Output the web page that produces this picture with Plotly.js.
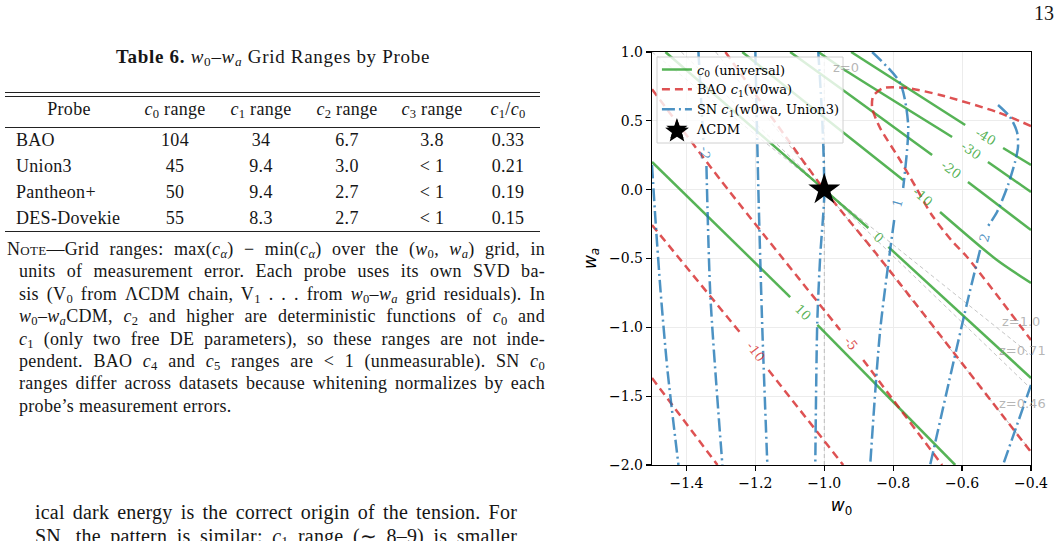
<!DOCTYPE html>
<html>
<head>
<meta charset="utf-8">
<script src="https://cdn.plot.ly/plotly-3.0.1.min.js"></script>
<style>
html,body{margin:0;padding:0;background:#fff;}
#wrap{position:relative;width:1062px;height:541px;overflow:hidden;background:#fff;}
#chart{position:absolute;left:0;top:0;width:1062px;height:541px;}
#page{position:absolute;left:0;top:0;width:1062px;height:541px;pointer-events:none;font-family:"Liberation Serif","Times New Roman",serif;color:#161616;}
.ln{position:absolute;white-space:nowrap;}
.j{text-align:justify;text-align-last:justify;white-space:normal;}
.cell{position:absolute;white-space:nowrap;font-size:18px;line-height:22px;letter-spacing:0.3px;}
.rule{position:absolute;left:5px;width:535px;height:1px;background:#222;}
sub{font-size:70%;vertical-align:baseline;position:relative;top:0.25em;}
.sc{font-variant:small-caps;}
</style>
</head>
<body>
<div id="wrap">
<div id="chart"></div>
<div id="page"></div>
</div>
<script>
// ---------------- table data ----------------
const probes   = ['BAO','Union3','Pantheon+','DES-Dovekie'];
const c0Range  = ['104','45','50','55'];
const c1Range  = ['34','9.4','9.4','8.3'];
const c2Range  = ['6.7','3.0','2.7','2.7'];
const c3Range  = ['3.8','&lt; 1','&lt; 1','&lt; 1'];
const c1OverC0 = ['0.33','0.21','0.19','0.15'];
const headers  = ['Probe','<i>c</i><sub>0</sub> range','<i>c</i><sub>1</sub> range','<i>c</i><sub>2</sub> range','<i>c</i><sub>3</sub> range','<i>c</i><sub>1</sub>/<i>c</i><sub>0</sub>'];

const noteLines = [
 '<span class="sc">Note</span>—Grid ranges: max(<i>c<sub>α</sub></i>) − min(<i>c<sub>α</sub></i>) over the (<i>w</i><sub>0</sub>, <i>w<sub>a</sub></i>) grid, in',
 'units of measurement error. Each probe uses its own SVD ba-',
 'sis (V<sub>0</sub> from ΛCDM chain, V<sub>1</sub> . . . from <i>w</i><sub>0</sub>–<i>w<sub>a</sub></i> grid residuals). In',
 '<i>w</i><sub>0</sub>–<i>w<sub>a</sub></i>CDM, <i>c</i><sub>2</sub> and higher are deterministic functions of <i>c</i><sub>0</sub> and',
 '<i>c</i><sub>1</sub> (only two free DE parameters), so these ranges are not inde-',
 'pendent. BAO <i>c</i><sub>4</sub> and <i>c</i><sub>5</sub> ranges are &lt; 1 (unmeasurable). SN <i>c</i><sub>0</sub>',
 'ranges differ across datasets because whitening normalizes by each',
 'probe’s measurement errors.'
];
const bodyLines = [
 'ical dark energy is the correct origin of the tension. For',
 'SN, the pattern is similar: <i>c</i><sub>1</sub> range (∼ 8–9) is smaller'
];

// ---------------- chart data (w0, wa) ----------------
// c0 (universal) contours
const c0_p10_w0 = [-1.5,-1.099,null,-1.020,-0.620];
const c0_p10_wa = [0.201,-0.780,null,-0.983,-2.0];
const c0_0_w0   = [-1.461,-1.0,-0.872,null,-0.814,-0.4];
const c0_0_wa   = [1.0,0.0,-0.278,null,-0.416,-1.368];
const c0_m10_w0 = [-1.238,-0.954,-0.771,null,-0.664,-0.499,-0.4];
const c0_m10_wa = [1.0,0.433,0.070,null,-0.162,-0.511,-0.678];
const c0_m20_w0 = [-1.099,-0.954,-0.687,null,-0.583,-0.4];
const c0_m20_wa = [1.0,0.739,0.252,null,0.056,-0.293];
const c0_m30_w0 = [-1.017,-0.954,-0.629,null,-0.525,-0.4];
const c0_m30_wa = [1.0,0.891,0.383,null,0.201,-0.017];
const c0_m40_w0 = [-0.922,-0.591,null,-0.481,-0.4];
const c0_m40_wa = [1.0,0.470,null,0.303,0.179];

// BAO c1 contours
const bao_m15_w0 = [-1.5,-1.31];
const bao_m15_wa = [-1.368,-2.0];
const bao_m10_w0 = [-1.5,-1.2435,null,-1.162,-0.945];
const bao_m10_wa = [-0.257,-1.041,null,-1.310,-2.0];
const bao_m5_w0  = [-1.5,-1.301,-0.954,null,-0.887,-0.658];
const bao_m5_wa  = [0.73,0.070,-1.019,null,-1.237,-2.0];
const bao_0_w0   = [-1.287,-1.0,-0.846,-0.4];
const bao_0_wa   = [1.0,0.0,-0.4745,-1.906];
const bao_p5_w0  = [-0.4,-0.4986,-0.6638,-0.7594,-0.829,-0.858,-0.861,-0.838,-0.7855,-0.7362,-0.6899,-0.6319,-0.5855,-0.4];
const bao_p5_wa  = [0.4625,0.5642,0.6877,0.7385,0.7385,0.6804,0.5932,0.448,0.2373,0.0267,-0.1767,-0.3656,-0.4891,-1.092];

// SN c1 (Union3) contours
const sn_m3_w0 = [-1.5,-1.4899,-1.4754,-1.4551,-1.4232];
const sn_m3_wa = [0.179,-0.2203,-0.7288,-1.31,-2.0];
const sn_m2_w0 = [-1.3652,-1.351,null,-1.342,-1.3304,-1.2957];
const sn_m2_wa = [1.0,0.361,null,0.172,-0.7796,-2.0];
const sn_m1_w0 = [-1.2,-1.1913,-1.1797,-1.1652];
const sn_m1_wa = [1.0,0.0,-1.0193,-2.0];
const sn_0_w0  = [-1.0174,-1.0058,-1.0,-1.0116,-1.0203,-1.0261];
const sn_0_wa  = [1.0,0.506,-0.0387,-0.4745,-0.9612,-2.0];
const sn_p1_w0 = [-0.861,-0.7797,-0.7565,-0.771,null,-0.7971,-0.8377,-0.8667];
const sn_p1_wa = [1.0,0.7748,0.4698,0.0121,null,-0.2203,-1.0193,-2.0];
const sn_p2_w0 = [-0.4957,-0.4609,-0.4406,-0.4377,-0.4464,-0.4667,-0.4986,-0.5304,null,-0.5478,-0.5855,-0.6928];
const sn_p2_wa = [0.615,0.528,0.419,0.310,0.201,0.034,-0.162,-0.286,null,-0.438,-0.823,-2.0];
const sn_p3_w0 = [-0.4,-0.4812];
const sn_p3_wa = [-1.4188,-2.0];

// pivot-redshift reference lines through LCDM
const zLabels  = ['z=0','z=0.46','z=0.71','z=1.0'];
const z0_w0    = [-1,-1],        z0_wa    = [-2,1];
const z046_w0  = [-1.315,-0.4],  z046_wa  = [1,-1.9];
const z071_w0  = [-1.415,-0.4],  z071_wa  = [1,-1.446];
const z100_w0  = [-1.5,-0.4],    z100_wa  = [1,-1.2];

const lcdm_w0 = [-1.0];
const lcdm_wa = [0.0];

// contour label texts
const c0LabelText  = ['10','0','-10','-20','-30','-40'];
const baoLabelText = ['-10','-5'];
const snLabelText  = ['-2','1','2'];

// ---------------- page text (HTML) ----------------
const page = document.getElementById('page');
function addDiv(html, style){
  const d = document.createElement('div');
  d.className = 'ln';
  Object.assign(d.style, style);
  d.innerHTML = html;
  page.appendChild(d);
  return d;
}
addDiv('13',{left:'1034px',top:'2px',fontSize:'20px',lineHeight:'22px'});
addDiv('<b>Table 6.</b> <i>w</i><sub>0</sub>–<i>w<sub>a</sub></i> Grid Ranges by Probe',
  {left:'0px',top:'46px',width:'546px',textAlign:'center',fontSize:'19px',lineHeight:'22px',letterSpacing:'0.7px'});
[92,96,127,231].forEach(y=>{
  const r=document.createElement('div'); r.className='rule'; r.style.top=y+'px'; page.appendChild(r);
});
const colCenters = [null,175,261,347,432,508];
function addCell(html,cx,cy,leftAlign){
  const d=document.createElement('div'); d.className='cell'; d.innerHTML=html;
  d.style.top=(cy-12)+'px';
  d.style.left=cx+'px';
  if(!leftAlign) d.style.transform='translateX(-50%)';
  page.appendChild(d);
}
addCell(headers[0],69,110,false);
for(let k=1;k<headers.length;k++) addCell(headers[k],colCenters[k],110,false);
const rowY=[141,167,193,219];
const cols=[c0Range,c1Range,c2Range,c3Range,c1OverC0];
probes.forEach((p,i)=>{
  addCell(p,16,rowY[i],true);
  cols.forEach((col,k)=>addCell(col[i],colCenters[k+1],rowY[i],false));
});
noteLines.forEach((t,i)=>{
  const y = 250 + i*22.4;
  const last = i===noteLines.length-1;
  const left = i===0 ? 7 : 19;
  const d = addDiv(t,{left:left+'px',top:(y-12)+'px',width:(545-left)+'px',fontSize:'18px',lineHeight:'22px',letterSpacing:'0.3px'});
  if(!last) d.classList.add('j');
});
bodyLines.forEach((t,i)=>{
  const y = 513 + i*24;
  const d = addDiv(t,{left:'35px',top:(y-13)+'px',width:'482px',fontSize:'20px',lineHeight:'24px',letterSpacing:'0.2px'});
  d.classList.add('j');
});

// ---------------- Plotly chart ----------------
const GREEN='rgba(44,160,44,0.8)', RED='rgba(214,39,40,0.8)', BLUE='rgba(31,119,180,0.8)', GREY='rgba(140,140,140,0.5)';
const traces=[];
function line(x,y,color,width,dash,name,show,shape){
  traces.push({type:'scatter',mode:'lines',x:x,y:y,name:name,showlegend:!!show,legendgroup:name,
    hoverinfo:'skip',line:{color:color,width:width,dash:dash,shape:shape||'linear',smoothing:0.7},connectgaps:false});
}
[[z0_w0,z0_wa],[z046_w0,z046_wa],[z071_w0,z071_wa],[z100_w0,z100_wa]].forEach(p=>line(p[0],p[1],GREY,1,'4px,3px','zref',false));
const c0Name='<i>c</i><sub>0</sub> (universal)';
[[c0_p10_w0,c0_p10_wa],[c0_0_w0,c0_0_wa],[c0_m10_w0,c0_m10_wa],[c0_m20_w0,c0_m20_wa],[c0_m30_w0,c0_m30_wa],[c0_m40_w0,c0_m40_wa]]
  .forEach((p,i)=>line(p[0],p[1],GREEN,2.5,'solid',c0Name,i===0,'spline'));
const baoName='BAO <i>c</i><sub>1</sub>(w0wa)';
[[bao_m15_w0,bao_m15_wa],[bao_m10_w0,bao_m10_wa],[bao_m5_w0,bao_m5_wa],[bao_0_w0,bao_0_wa],[bao_p5_w0,bao_p5_wa]]
  .forEach((p,i)=>line(p[0],p[1],RED,2.5,'8px,5px',baoName,i===0,'spline'));
const snName='SN <i>c</i><sub>1</sub>(w0wa, Union3)';
[[sn_m3_w0,sn_m3_wa],[sn_m2_w0,sn_m2_wa],[sn_m1_w0,sn_m1_wa],[sn_0_w0,sn_0_wa],[sn_p1_w0,sn_p1_wa],[sn_p2_w0,sn_p2_wa],[sn_p3_w0,sn_p3_wa]]
  .forEach((p,i)=>line(p[0],p[1],BLUE,2.5,'13px,4px,2px,4px',snName,i===0,'spline'));
traces.push({type:'scatter',mode:'markers',x:lcdm_w0,y:lcdm_wa,name:'ΛCDM',hoverinfo:'skip',
  marker:{symbol:'star',size:24,color:'#000',line:{width:0}}});

function lab(text,x,y,ang,color,fam,size){
  return {text:text,x:x,y:y,xref:'x',yref:'y',showarrow:false,textangle:ang,
    font:{family:fam||'DejaVu Serif',size:size||13,color:color}};
}
const ZC='rgba(150,150,150,0.7)';
const anns=[
  lab(c0LabelText[0],-1.061,-0.889,45,GREEN),
  lab(c0LabelText[1],-0.8435,-0.351,43,GREEN),
  lab(c0LabelText[2],-0.716,-0.053,41,GREEN),
  lab(c0LabelText[3],-0.632,0.150,37,GREEN),
  lab(c0LabelText[4],-0.574,0.288,35,GREEN),
  lab(c0LabelText[5],-0.533,0.383,31,GREEN),
  lab(baoLabelText[0],-1.2,-1.179,52,RED),
  lab(baoLabelText[1],-0.922,-1.114,52,RED),
  lab(snLabelText[0],-1.345,0.266,85,BLUE),
  lab(snLabelText[1],-0.7885,-0.097,-74,BLUE),
  lab(snLabelText[2],-0.5333,-0.351,-74,BLUE),
  lab(zLabels[0],-0.936,0.884,0,ZC,'DejaVu Sans',13),
  lab(zLabels[1],-0.424,-1.55,0,ZC,'DejaVu Sans',13),
  lab(zLabels[2],-0.424,-1.165,0,ZC,'DejaVu Sans',13),
  lab(zLabels[3],-0.428,-0.961,0,ZC,'DejaVu Sans',13)
];

// legend frame and enlarged legend star drawn as paper-space shapes (plot area 652..1031 x 52..465 px)
const PW=379, PH=413;
function px2paper(px,py){ return [(px-652)/PW, (465-py)/PH]; }
const lb0=px2paper(657,143), lb1=px2paper(843,57);
let starPath='';
for(let k=0;k<10;k++){
  const r = (k%2===0)?12.5:5.2;
  const a = -Math.PI/2 + k*Math.PI/5;
  const p = px2paper(677 + r*Math.cos(a), 131.5 + r*Math.sin(a));
  starPath += (k===0?'M':'L') + p[0].toFixed(5) + ',' + p[1].toFixed(5);
}
starPath += 'Z';
const shapes=[
  {type:'rect',xref:'paper',yref:'paper',x0:lb0[0],y0:lb0[1],x1:lb1[0],y1:lb1[1],layer:'above',
    fillcolor:'rgba(255,255,255,0.8)',line:{color:'#d0d0d0',width:1}},
  {type:'path',xref:'paper',yref:'paper',path:starPath,layer:'above',fillcolor:'#000',line:{width:0}}
];

const axisCommon={showline:true,linecolor:'#000',linewidth:1.2,mirror:true,ticks:'outside',ticklen:5,tickwidth:1.2,tickcolor:'#000',
  showgrid:true,gridcolor:'#ececec',gridwidth:1,zeroline:false,tickformat:'.1f',
  tickfont:{family:'DejaVu Serif',size:14,color:'#000'}};
const layout={
  width:1062,height:541,
  margin:{l:652,r:31,t:52,b:76,pad:0},
  paper_bgcolor:'rgba(0,0,0,0)',plot_bgcolor:'#fff',
  font:{family:'DejaVu Serif',size:13,color:'#000'},
  showlegend:true,
  legend:{x:0.013,y:0.994,xanchor:'left',yanchor:'top',bgcolor:'rgba(0,0,0,0)',borderwidth:0,
    font:{family:'DejaVu Serif',size:13,color:'#000'},tracegroupgap:0,itemwidth:30},
  xaxis:Object.assign({},axisCommon,{range:[-1.5,-0.4],tickmode:'array',tickvals:[-1.4,-1.2,-1.0,-0.8,-0.6,-0.4],
    title:{text:'<i>w</i><sub>0</sub>',font:{family:'DejaVu Sans',size:17,color:'#000'},standoff:9}}),
  yaxis:Object.assign({},axisCommon,{range:[-2,1],tickmode:'array',tickvals:[-2,-1.5,-1,-0.5,0,0.5,1],
    title:{text:'<i>w<sub>a</sub></i>',font:{family:'DejaVu Sans',size:17,color:'#000'},standoff:8}}),
  annotations:anns,
  shapes:shapes
};
Plotly.newPlot('chart',traces,layout,{displayModeBar:false,staticPlot:true});
</script>
</body>
</html>
